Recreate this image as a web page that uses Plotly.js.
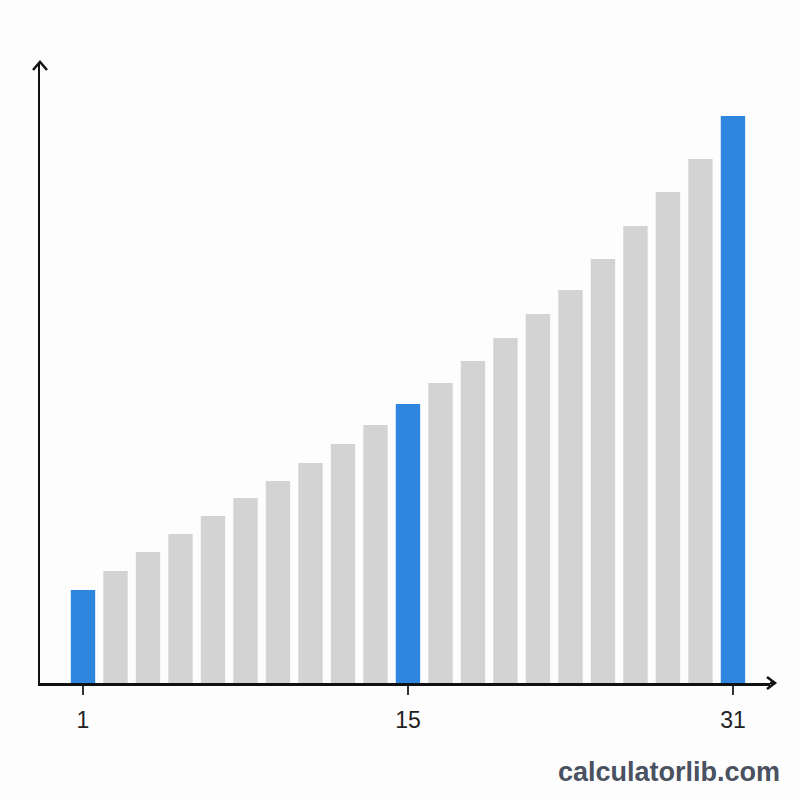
<!DOCTYPE html>
<html>
<head>
<meta charset="utf-8">
<script src="https://cdn.plot.ly/plotly-3.0.1.min.js"></script>
<style>html,body{margin:0;padding:0;background:#fdfdfd;}#chart{width:800px;height:800px;}</style>
</head>
<body>
<div id="chart"></div>
<script>
// Data
const positions = [1,2,3,4,5,6,7,8,9,10,11,12,13,14,15,16,17,18,19,20,21];
const values = [93,112,131,149,167,185,202,220,239,258,279,300,322,345,369,393,424,457,491,524,567];
const highlighted = [1,11,21];
const tickPositions = [1,11,21];
const tickLabels = ['1','15','31'];

const blue = '#2e86de';
const gray = '#d3d3d3';
const colors = positions.map(p => highlighted.includes(p) ? blue : gray);

const trace = {
  type: 'bar',
  x: positions,
  y: values,
  marker: {color: colors, line: {width: 0}},
  hoverinfo: 'skip'
};

const axisColor = '#111';
const layout = {
  width: 800, height: 800,
  paper_bgcolor: '#fdfdfd',
  plot_bgcolor: '#fdfdfd',
  margin: {l: 40, r: 30, t: 62, b: 117},
  bargap: 0.25,
  showlegend: false,
  xaxis: {
    range: [-0.323, 22.14],
    tickmode: 'array',
    tickvals: tickPositions,
    ticktext: tickLabels,
    ticks: 'outside',
    ticklen: 9,
    tickwidth: 1.5,
    tickcolor: '#333',
    ticklabelstandoff: 6,
    tickfont: {family: 'Liberation Sans, Arial, sans-serif', size: 23, color: '#222'},
    showgrid: false, zeroline: false,
    showline: true, linecolor: axisColor, linewidth: 2.5,
    fixedrange: true
  },
  yaxis: {
    range: [0, 621],
    showticklabels: false,
    ticks: '',
    showgrid: false, zeroline: false,
    showline: true, linecolor: axisColor, linewidth: 2.5,
    fixedrange: true
  },
  shapes: [
    {type: 'path', xref: 'paper', yref: 'paper', xsizemode: 'pixel', ysizemode: 'pixel',
     xanchor: 0, yanchor: 1, path: 'M -7,-8 L 0,0 L 7,-8',
     line: {color: axisColor, width: 2.5}},
    {type: 'path', xref: 'paper', yref: 'paper', xsizemode: 'pixel', ysizemode: 'pixel',
     xanchor: 1, yanchor: 0, path: 'M -3,6 L 5,0 L -3,-6',
     line: {color: axisColor, width: 2.5}},
    {type: 'line', xref: 'paper', yref: 'paper', xsizemode: 'pixel',
     xanchor: 1, x0: 0, x1: 5, y0: 0, y1: 0,
     line: {color: axisColor, width: 2.5}}
  ],
  annotations: [
    {text: 'calculatorlib.com', xref: 'paper', yref: 'paper',
     x: 1.0164, y: -0.143, xanchor: 'right', yanchor: 'middle', showarrow: false,
     font: {family: 'Liberation Sans, Arial, sans-serif', size: 27, color: '#4a5160', weight: 'bold'}}
  ]
};

Plotly.newPlot('chart', [trace], layout, {displayModeBar: false, staticPlot: true});
</script>
</body>
</html>
